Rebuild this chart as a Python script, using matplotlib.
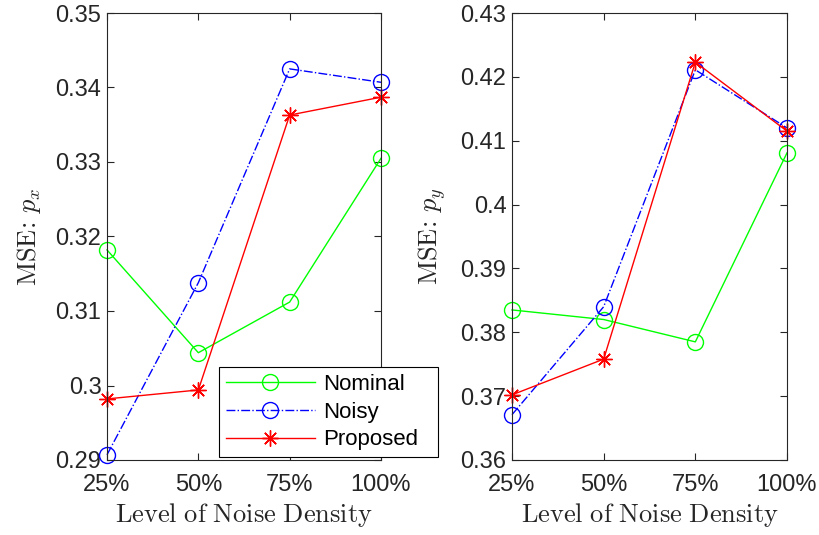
import numpy as np
import matplotlib
matplotlib.use("Agg")
import matplotlib.pyplot as plt

matplotlib.rcParams['mathtext.fontset'] = 'cm'
matplotlib.rcParams['font.family'] = 'Liberation Sans'

levels = ["25%", "50%", "75%", "100%"]
x = np.arange(1, 5)

# MSE p_x
px_nominal = [0.3182, 0.3044, 0.3112, 0.3305]
px_noisy = [0.2907, 0.3138, 0.3425, 0.3407]
px_proposed = [0.2982, 0.2994, 0.3363, 0.3387]

# MSE p_y
py_nominal = [0.3835, 0.3820, 0.3785, 0.4081]
py_noisy = [0.3671, 0.3840, 0.4211, 0.4120]
py_proposed = [0.3702, 0.3758, 0.4223, 0.4115]

fig = plt.figure(figsize=(8.2, 5.35), dpi=100)
ax1 = fig.add_axes([107/820, 1-460/535, 274/820, 447/535])
ax2 = fig.add_axes([512/820, 1-460/535, 275/820, 447/535])

tick_col = '#262626'
ms = 11.5

def draw(ax, nom, noi, pro):
    ax.plot(x, nom, '-', color=(0, 1, 0), marker='o', mfc='none', ms=ms, lw=1,
            label='Nominal', clip_on=False)
    ax.plot(x, noi, '-.', color=(0, 0, 1), marker='o', mfc='none', ms=ms, lw=1,
            label='Noisy', clip_on=False)
    ax.plot(x, pro, '-', color=(1, 0, 0), marker=(8, 2, 0), ms=ms, lw=1,
            label='Proposed', markeredgewidth=1, clip_on=False)
    ax.set_xlim(1, 4)
    ax.set_xticks(x)
    ax.set_xticklabels(levels)
    ax.tick_params(direction='in', top=True, right=True, labelsize=17,
                   colors=tick_col, length=5, pad=4)
    ax.tick_params(axis='x', pad=10)
    for s in ax.spines.values():
        s.set_color(tick_col)
        s.set_linewidth(0.8)
    ax.set_xlabel(r'$\mathrm{Level\ of\ Noise\ Density}$', fontsize=19, color=tick_col, labelpad=4)

draw(ax1, px_nominal, px_noisy, px_proposed)
ax1.set_ylim(0.29, 0.35)
ax1.set_yticks([0.29, 0.30, 0.31, 0.32, 0.33, 0.34, 0.35])
ax1.set_yticklabels(["0.29", "0.3", "0.31", "0.32", "0.33", "0.34", "0.35"])
ax1.set_ylabel(r'$\mathrm{MSE}\!:\,p_x$', fontsize=19, color=tick_col, labelpad=9)

draw(ax2, py_nominal, py_noisy, py_proposed)
ax2.set_ylim(0.36, 0.43)
ax2.set_yticks([0.36, 0.37, 0.38, 0.39, 0.40, 0.41, 0.42, 0.43])
ax2.set_yticklabels(["0.36", "0.37", "0.38", "0.39", "0.4", "0.41", "0.42", "0.43"])
ax2.set_ylabel(r'$\mathrm{MSE}\!:\,p_y$', fontsize=19, color=tick_col, labelpad=9)

leg = ax1.legend(loc='lower left', bbox_to_anchor=(219/820, 1-457/535, 219/820, 102/535),
                 bbox_transform=fig.transFigure, mode='expand', fontsize=16,
                 fancybox=False, framealpha=1, edgecolor='black', borderaxespad=0,
                 handlelength=4.0, handletextpad=0.4, labelspacing=0.3, borderpad=0.3)
leg.get_frame().set_linewidth(0.8)
leg.set_zorder(10)

fig.savefig("out.png", dpi=100)
